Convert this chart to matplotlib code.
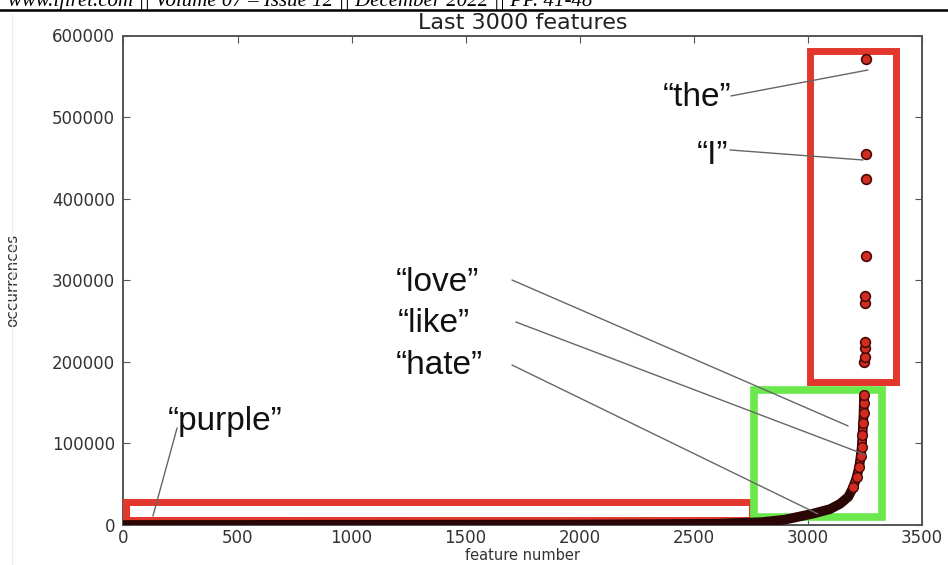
import numpy as np
import matplotlib
matplotlib.use('Agg')
import matplotlib.pyplot as plt
from matplotlib.patches import Rectangle
from matplotlib.lines import Line2D

# sorted word counts
curve_x = [0, 2000, 2600, 2800, 2900, 2967, 3025, 3099, 3143, 3179, 3201, 3216,
           3227, 3233, 3238, 3241, 3244, 3246, 3247, 3248]
curve_y = [0, 500, 1500, 3500, 6500, 10500, 14000, 19500, 26000, 34500, 46500, 59000,
           71500, 84000, 96000, 110000, 124500, 137000, 149000, 159000]

top_x = [3249, 3250, 3251, 3252, 3253, 3254, 3255, 3256, 3257, 3258]
top_y = [200200, 206300, 216600, 224700, 271800, 280700, 329700, 424100, 454800, 570900]

x_ticks = [0, 500, 1000, 1500, 2000, 2500, 3000, 3500]
y_ticks = [0, 100000, 200000, 300000, 400000, 500000, 600000]

# word labels: text, text anchor, alignment, line start, line end
words = [
    ('\u201cthe\u201d', (2664, 513600), 'right', (2664, 525900), (3265, 557700)),
    ('\u201cI\u201d', (2651, 442500), 'right', (2660, 459700), (3243, 447400)),
    ('\u201clove\u201d', (1195, 286800), 'left', (1704, 300300), (3178, 121400)),
    ('\u201clike\u201d', (1204, 236600), 'left', (1721, 248800), (3257, 85800)),
    ('\u201chate\u201d', (1195, 185100), 'left', (1704, 196100), (3046, 13500)),
    ('\u201cpurple\u201d', (195, 116500), 'left', (235, 118900), (129, 11000)),
]

red = '#e2372c'
green = '#6be84b'
dark = '#2a0604'
dot = '#d02c22'

fig = plt.figure(figsize=(9.48, 5.65), dpi=100)
ax = fig.add_axes([123.5 / 948, 40 / 565, 798 / 948, 489.5 / 565])

# highlight boxes
ax.add_patch(Rectangle((9, 6700), 2748, 22100, fill=False, ec=red, lw=5, zorder=3))
ax.add_patch(Rectangle((3013, 175300), 375, 405100, fill=False, ec=red, lw=5, zorder=3))
ax.add_patch(Rectangle((2765, 10400), 562, 155100, fill=False, ec=green, lw=5.5, zorder=3))

# data
cx = np.array(curve_x)
cy = np.array(curve_y)
ax.plot(cx, cy, color=dark, lw=7, solid_capstyle='round', zorder=4)
up = cy >= 40000
ax.plot(cx[up], cy[up], color=dot, lw=4.5, marker='o', ms=7, mfc=dot, mec='#4a0905',
        mew=1, zorder=5)
ax.plot(top_x, top_y, 'o', ms=7, mfc=dot, mec='#4a0905', mew=1.2, zorder=5)

# labels and leader lines
for text, pos, ha, start, end in words:
    ax.text(pos[0], pos[1], text, ha=ha, va='baseline', fontsize=24,
            family='Liberation Sans', color='#111111', zorder=6)
    ax.annotate('', xy=end, xytext=start,
                arrowprops=dict(arrowstyle='-', color='#666666', lw=1.0,
                                shrinkA=0, shrinkB=0), zorder=6)

ax.set_xlim(0, 3500)
ax.set_ylim(0, 600000)
ax.set_xticks(x_ticks)
ax.set_yticks(y_ticks)
ax.ticklabel_format(style='plain')
ax.tick_params(direction='in', length=5, top=True, right=True, color='#555555',
               labelsize=12, labelcolor='#333333', pad=6)
ax.tick_params(axis='x', pad=3)
for s in ax.spines.values():
    s.set_color('#555555')
    s.set_linewidth(1.4)

ax.set_title('Last 3000 features', fontsize=16, color='#222222', pad=5)
ax.set_xlabel('feature number', fontsize=10.5, color='#333333')
ax.set_ylabel('occurrences', fontsize=11, color='#333333')
ax.xaxis.set_label_coords(0.5, -0.047)
ax.yaxis.set_label_coords(-0.13, 0.5)

# page header from the paper, cut at the top like the scan
fig.text(592 / 948, 1 - 6 / 565, 'www.ijlret.com || Volume 07 \u2013 Issue 12 || December 2022 || PP. 41-48',
         ha='right', va='baseline', fontsize=15, style='italic', family='Liberation Serif')
fig.add_artist(Line2D([0, 1], [1 - 10 / 565] * 2, color='black', lw=1.8))
fig.add_artist(Line2D([12 / 948] * 2, [0, 1 - 14 / 565], color='#ececec', lw=0.8))

fig.savefig('out.png', dpi=100)
